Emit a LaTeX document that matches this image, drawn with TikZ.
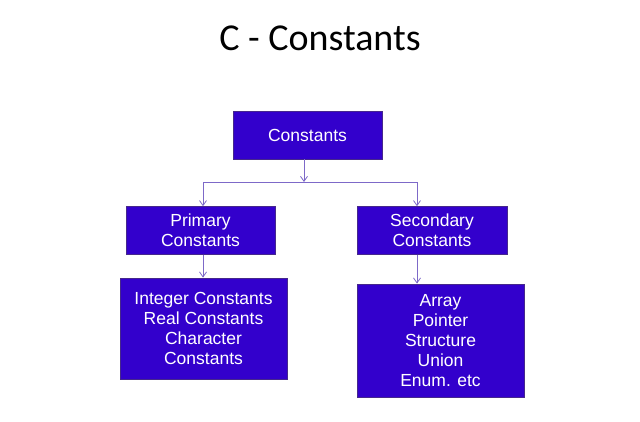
\documentclass[tikz,border=0pt]{standalone}
\usepackage{fontspec}
\setmainfont{Liberation Sans}
\newfontfamily\titlefont{Carlito}
\usetikzlibrary{positioning}
\usetikzlibrary{arrows.meta}

\definecolor{boxfill}{RGB}{51,0,204}
\definecolor{boxline}{RGB}{70,40,140}
\definecolor{linkline}{RGB}{125,105,200}

\begin{document}
\begin{tikzpicture}[
    x=1pt, y=-1pt,
    class/.style={rectangle, draw=boxline, fill=boxfill, text=white, align=center, inner sep=0pt,
        font=\fontsize{17.5}{20}\selectfont},
    link/.style={draw=linkline, line width=0.8pt, -{Straight Barb[length=5pt,width=7pt]}}
]
\useasboundingbox (0,0) rectangle (640,421);

% Title
\node[font=\titlefont\fontsize{38}{44}\selectfont] (title) at (320,38) {C - Constants};

% Classes
\node[class, minimum width=149pt, minimum height=48pt] (consts) at (307.5,135) {Constants};
\node[class, minimum width=149pt, minimum height=48pt, below=47pt of consts, xshift=-107pt] (primary) {Primary\\Constants};
\node[class, minimum width=150pt, minimum height=48pt, below=47pt of consts, xshift=124.5pt] (secondary) {Secondary\\Constants};
\node[class, minimum width=167pt, minimum height=101pt, below=23pt of primary, xshift=3pt] (basic) {Integer Constants\\Real Constants\\Character\\Constants};
\node[class, minimum width=167pt, minimum height=113pt, below=29pt of secondary, xshift=8.5pt] (derived) {Array\\Pointer\\Structure\\Union\\Enum. etc};

% Relationships
\coordinate (split) at (304,182);
\coordinate (lsplit) at (203,182);
\coordinate (rsplit) at (417,182);
\draw[link] (consts.south -| split) -- (split);
\draw[draw=linkline, line width=0.8pt] (lsplit) -- (rsplit);
\draw[link] (lsplit) -- (lsplit |- primary.north);
\draw[link] (rsplit) -- (rsplit |- secondary.north);
\draw[link] (lsplit |- primary.south) -- (lsplit |- basic.north);
\draw[link] (rsplit |- secondary.south) -- (rsplit |- derived.north);

\end{tikzpicture}
\end{document}
